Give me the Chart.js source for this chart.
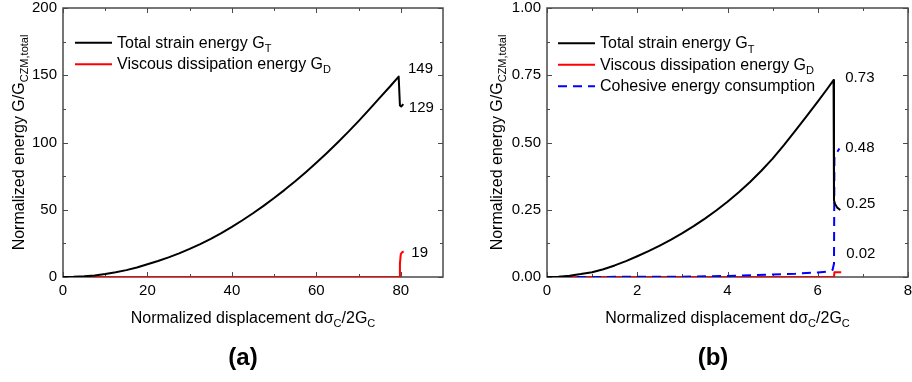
<!DOCTYPE html>
<html>
<head>
<meta charset="utf-8">
<script src="https://cdn.jsdelivr.net/npm/chart.js@4.4.1/dist/chart.umd.min.js"></script>
<style>
  body { margin: 0; background: #fff; }
  #wrap { position: relative; width: 912px; height: 382px; }
  canvas { position: absolute; top: 0; }
</style>
</head>
<body>
<div id="wrap">
  <canvas id="chartA" width="456" height="382" style="left:0"></canvas>
  <canvas id="chartB" width="456" height="382" style="left:456px"></canvas>
</div>
<script>
var FONT = '"Liberation Sans", Arial, sans-serif';

// ---- panel (a) data ----
var dispA_total = [0, 2.5, 5, 7.5, 10, 12.5, 15, 17.5, 20, 22.5, 25, 27.5, 30, 32.5, 35, 37.5, 40, 42.5, 45, 47.5,
    50, 52.5, 55, 57.5, 60, 62.5, 65, 67.5, 70, 72.5, 75, 77.5, 79.5, 79.8, 80.1, 80.6];
var strainA = [0, 0.1, 0.5, 1.2, 2.2, 3.5, 5.1, 7.1, 9.5, 11.9, 14.6, 17.6, 20.9, 24.5, 28.4, 32.7, 37.3, 42.2, 47.4, 52.9,
    58.7, 64.8, 71.2, 77.9, 84.9, 92.2, 99.8, 107.7, 115.9, 124.4, 133.2, 141.8, 149, 127.5, 126.8, 128.5];
var dispA_visc = [0, 79.7, 79.8, 80.0, 80.4, 80.7];
var viscA = [0, 0, 10, 17, 18.6, 18.8];
var xTicksA = [0, 20, 40, 60, 80];
var yTicksA = [0, 50, 100, 150, 200];
var xMinorA = [10, 30, 50, 70];
var yMinorA = [25, 75, 125, 175];
var notesA = [['149', 81.7, 155], ['129', 81.9, 125.7], ['19', 82.5, 18.1]];

// ---- panel (b) data ----
var dispB_total = [0, 0.25, 0.5, 0.75, 1, 1.25, 1.5, 1.75, 2, 2.25, 2.5, 2.75, 3, 3.25, 3.5, 3.75, 4, 4.25, 4.5, 4.75,
    5, 5.25, 5.5, 5.75, 6, 6.2, 6.35, 6.36, 6.38, 6.43, 6.5];
var strainB = [0, 0.001, 0.005, 0.011, 0.018, 0.029, 0.043, 0.059, 0.077, 0.096, 0.117, 0.139, 0.163, 0.189, 0.217, 0.247, 0.28, 0.315, 0.353, 0.395,
    0.44, 0.49, 0.543, 0.597, 0.652, 0.697, 0.732, 0.285, 0.272, 0.258, 0.249];
var dispB_visc = [0, 6.36, 6.37, 6.52];
var viscB = [0, 0, 0.018, 0.018];
var dispB_coh = [0, 3, 4, 5, 5.5, 6, 6.25, 6.33, 6.36, 6.37, 6.48];
var cohB = [0, 0.001, 0.004, 0.009, 0.012, 0.017, 0.021, 0.027, 0.05, 0.447, 0.478];
var xTicksB = [0, 2, 4, 6, 8];
var yTicksB = [0, 0.25, 0.5, 0.75, 1];
var xMinorB = [1, 3, 5, 7];
var yMinorB = [0.125, 0.375, 0.625, 0.875];
var notesB = [['0.73', 6.61, 0.742], ['0.48', 6.61, 0.481], ['0.25', 6.63, 0.272], ['0.02', 6.63, 0.085]];

var legendT = ['Total strain energy G', 'T'];
var legendD = ['Viscous dissipation energy G', 'D'];
var legendC = ['Cohesive energy consumption'];
var xTitle = ['Normalized displacement d\u03c3', 'C', '/2G', 'C'];
var yTitle = ['Normalized energy G/G', 'CZM,total'];

function pts(xs, ys) {
    return xs.map(function (x, i) { return { x: x, y: ys[i] }; });
}

// text with subscripts: parts alternate normal / subscript
function drawRich(ctx, parts, x, y, align, size) {
    var big = size + 'px ' + FONT, small = Math.round(size * 0.7) + 'px ' + FONT;
    var w = 0;
    parts.forEach(function (p, i) { ctx.font = i % 2 ? small : big; w += ctx.measureText(p).width; });
    var cx = align === 'center' ? x - w / 2 : x;
    ctx.textAlign = 'left';
    ctx.textBaseline = 'alphabetic';
    parts.forEach(function (p, i) {
        ctx.font = i % 2 ? small : big;
        ctx.fillText(p, cx, i % 2 ? y + size * 0.28 : y);
        cx += ctx.measureText(p).width;
    });
}

// per panel extras (legend, titles, labels)
var panelInfo = {
    chartA: {
        xMinor: xMinorA, yMinor: yMinorA, notes: notesA,
        legend: [[legendT, '#000', null], [legendD, '#ff0000', null]],
        legX: 75, legY: 42.7, yTitleX: 24, label: '(a)', labelX: 243
    },
    chartB: {
        xMinor: xMinorB, yMinor: yMinorB, notes: notesB,
        legend: [[legendT, '#000', null], [legendD, '#ff0000', null], [legendC, '#0000ff', [9, 6]]],
        legX: 102, legY: 43.3, yTitleX: 45.5, label: '(b)', labelX: 257
    }
};

var decor = {
    id: 'decor',
    beforeDatasetsDraw: function (chart) {
        var ctx = chart.ctx, a = chart.chartArea, info = panelInfo[chart.canvas.id];
        var xs = chart.scales.x, ys = chart.scales.y;
        ctx.save();
        ctx.strokeStyle = '#4a4a4a';
        ctx.lineWidth = 1.5;
        ctx.strokeRect(a.left, a.top, a.right - a.left, a.bottom - a.top);
        ctx.lineWidth = 1;
        function tickX(v, len) {
            var p = Math.round(xs.getPixelForValue(v)) + 0.5;
            ctx.beginPath();
            ctx.moveTo(p, a.bottom); ctx.lineTo(p, a.bottom - len);
            ctx.moveTo(p, a.top); ctx.lineTo(p, a.top + len);
            ctx.stroke();
        }
        function tickY(v, len) {
            var p = Math.round(ys.getPixelForValue(v)) + 0.5;
            ctx.beginPath();
            ctx.moveTo(a.left, p); ctx.lineTo(a.left + len, p);
            ctx.moveTo(a.right, p); ctx.lineTo(a.right - len, p);
            ctx.stroke();
        }
        xs.ticks.forEach(function (t) { tickX(t.value, 5); });
        ys.ticks.forEach(function (t) { tickY(t.value, 5); });
        info.xMinor.forEach(function (v) { tickX(v, 3); });
        info.yMinor.forEach(function (v) { tickY(v, 3); });
        ctx.restore();
    },
    afterDraw: function (chart) {
        var ctx = chart.ctx, a = chart.chartArea, info = panelInfo[chart.canvas.id];
        var xs = chart.scales.x, ys = chart.scales.y;
        ctx.save();
        ctx.fillStyle = '#000';

        // legend
        info.legend.forEach(function (item, i) {
            var y = info.legY + i * 21.5;
            ctx.strokeStyle = item[1];
            ctx.lineWidth = 2;
            ctx.setLineDash(item[2] || []);
            ctx.beginPath();
            ctx.moveTo(info.legX, y); ctx.lineTo(info.legX + 37, y);
            ctx.stroke();
            ctx.setLineDash([]);
            drawRich(ctx, item[0], info.legX + 42, y + 4.8, 'left', 16);
        });

        // value notes
        ctx.font = '15px ' + FONT;
        ctx.textAlign = 'left';
        ctx.textBaseline = 'middle';
        info.notes.forEach(function (n) {
            ctx.fillText(n[0], xs.getPixelForValue(n[1]), ys.getPixelForValue(n[2]));
        });

        // axis titles
        drawRich(ctx, xTitle, (a.left + a.right) / 2, 323, 'center', 16);
        ctx.save();
        ctx.translate(info.yTitleX, (a.top + a.bottom) / 2);
        ctx.rotate(-Math.PI / 2);
        drawRich(ctx, yTitle, 0, 0, 'center', 16);
        ctx.restore();

        // panel label
        ctx.font = 'bold 24px ' + FONT;
        ctx.textAlign = 'center';
        ctx.textBaseline = 'middle';
        ctx.fillText(info.label, info.labelX, 358);
        ctx.restore();
    }
};

function makeChart(id, datasets, xr, yr, xTicks, yTicks, yDigits, pad, yWidth) {
    return new Chart(document.getElementById(id), {
        type: 'line',
        data: { datasets: datasets },
        options: {
            responsive: false,
            animation: false,
            devicePixelRatio: 1,
            layout: { padding: pad },
            plugins: { legend: { display: false }, tooltip: { enabled: false } },
            elements: { point: { radius: 0 }, line: { borderWidth: 2, tension: 0, borderJoinStyle: 'round' } },
            scales: {
                x: {
                    type: 'linear', min: xr[0], max: xr[1],
                    grid: { display: false, drawTicks: false },
                    border: { display: false },
                    ticks: { font: { family: FONT, size: 15 }, color: '#000', padding: 5, maxRotation: 0, autoSkip: false },
                    afterBuildTicks: function (s) { s.ticks = xTicks.map(function (v) { return { value: v }; }); },
                    afterFit: function (s) { s.height = 105; s.paddingLeft = 0; s.paddingRight = 0; }
                },
                y: {
                    type: 'linear', min: yr[0], max: yr[1],
                    grid: { display: false, drawTicks: false },
                    border: { display: false },
                    ticks: {
                        font: { family: FONT, size: 15 }, color: '#000', padding: 6, autoSkip: false,
                        callback: function (v) { return v.toFixed(yDigits); }
                    },
                    afterBuildTicks: function (s) { s.ticks = yTicks.map(function (v) { return { value: v }; }); },
                    afterFit: function (s) { s.width = yWidth; s.paddingTop = 0; s.paddingBottom = 0; }
                }
            }
        },
        plugins: [decor]
    });
}

var chartA = makeChart('chartA', [
    { label: 'Total strain energy', data: pts(dispA_total, strainA), borderColor: '#000000', order: 1 },
    { label: 'Viscous dissipation energy', data: pts(dispA_visc, viscA), borderColor: '#ff0000', order: 2 }
], [0, 90], [0, 200], xTicksA, yTicksA, 0, { left: 0, right: 13, top: 8, bottom: 0 }, 63);

var chartB = makeChart('chartB', [
    { label: 'Total strain energy', data: pts(dispB_total, strainB), borderColor: '#000000', order: 1 },
    { label: 'Viscous dissipation energy', data: pts(dispB_visc, viscB), borderColor: '#ff0000', order: 3 },
    { label: 'Cohesive energy consumption', data: pts(dispB_coh, cohB), borderColor: '#0000ff', borderDash: [9, 6], order: 2 }
], [0, 8], [0, 1], xTicksB, yTicksB, 2, { left: 0, right: 4, top: 8, bottom: 0 }, 91);
</script>
</body>
</html>
